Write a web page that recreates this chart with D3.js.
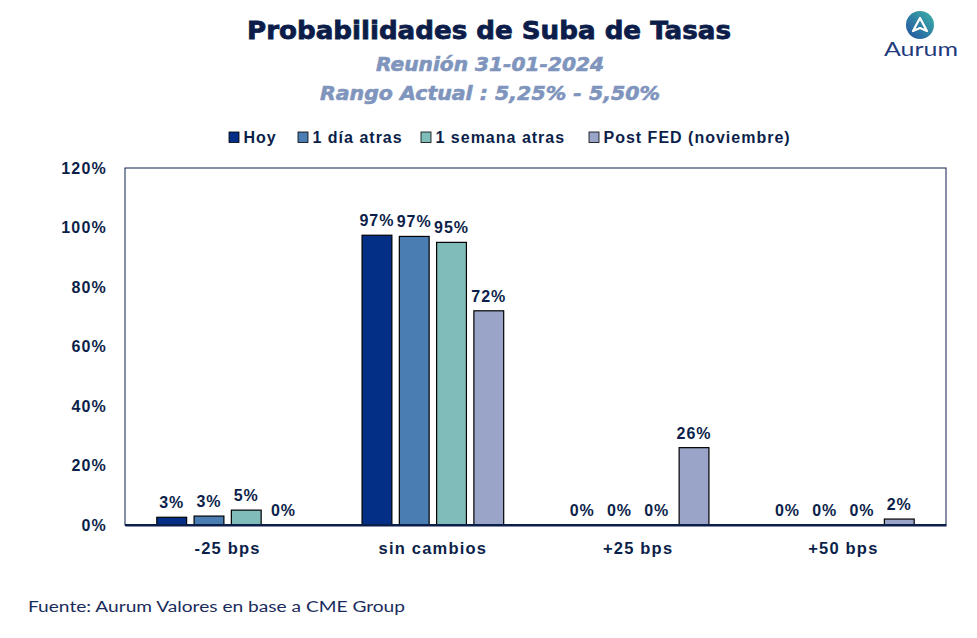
<!DOCTYPE html>
<html><head><meta charset="utf-8">
<script src="https://cdn.jsdelivr.net/npm/d3@7"></script>
<style>body{margin:0;background:#fff;}svg{display:block;}</style>
</head><body>
<svg id="c" width="977" height="638"></svg>
<script>
const categories = ["-25 bps", "sin cambios", "+25 bps", "+50 bps"];
const seriesNames = ["Hoy", "1 día atras", "1 semana atras", "Post FED (noviembre)"];
const hoy = [2.6, 97.4, 0, 0];
const diaAtras = [3, 97, 0, 0];
const semanaAtras = [5, 95, 0, 0];
const postFed = [0, 72, 26, 2];
const yTicks = [0, 20, 40, 60, 80, 100, 120];
const colors = ["#032f87", "#4a7db2", "#7fbcba", "#9aa3c8"];

const series = [hoy, diaAtras, semanaAtras, postFed];
const svg = d3.select("#c");
const navy = "#0c1f4a";
const arial = "Liberation Sans, Arial, sans-serif";
const m = {left:125, right:946, top:168, bottom:525};

const x0 = d3.scaleBand().domain(categories).range([m.left, m.right]).paddingInner(0.31).paddingOuter(0.155);
const x1 = d3.scaleBand().domain(seriesNames).range([0, x0.bandwidth()]).paddingInner(0.2).paddingOuter(0);
const y = d3.scaleLinear().domain([0, 120]).range([m.bottom, m.top]);

// frame
svg.append("rect").attr("x", m.left).attr("y", m.top).attr("width", m.right - m.left).attr("height", m.bottom - m.top)
  .attr("fill", "none").attr("stroke", navy).attr("stroke-width", 1);

// y axis
const yAxis = d3.axisLeft(y).tickValues(yTicks).tickFormat(d => d + "%").tickSize(0).tickPadding(18);
const ya = svg.append("g").attr("transform", `translate(${m.left},0)`).call(yAxis);
ya.select(".domain").remove();
ya.selectAll("text").attr("font-family", arial).attr("font-weight", "bold")
  .attr("font-size", 16).attr("letter-spacing", 1.2).attr("fill", navy);

// x axis
const xAxis = d3.axisBottom(x0).tickSize(0).tickPadding(17);
const xa = svg.append("g").attr("transform", `translate(0,${m.bottom})`).call(xAxis);
xa.select(".domain").attr("stroke", navy).attr("stroke-width", 2);
xa.selectAll("text").attr("font-family", arial).attr("font-weight", "bold")
  .attr("font-size", 16.5).attr("letter-spacing", 1.2).attr("fill", navy);

// bars
const rows = [];
categories.forEach((c, i) => seriesNames.forEach((s, j) => rows.push({c, s, j, v: series[j][i]})));
const g = svg.append("g");
g.selectAll("rect").data(rows.filter(d => d.v > 0)).join("rect")
  .attr("x", d => x0(d.c) + x1(d.s)).attr("width", x1.bandwidth())
  .attr("y", d => y(d.v)).attr("height", d => y(0) - y(d.v))
  .attr("fill", d => colors[d.j]).attr("stroke", "#000").attr("stroke-width", 1.2);
g.selectAll("text").data(rows).join("text")
  .attr("x", d => x0(d.c) + x1(d.s) + x1.bandwidth() / 2)
  .attr("y", d => y(d.v) - 9).attr("text-anchor", "middle")
  .attr("font-family", arial).attr("font-weight", "bold").attr("font-size", 16).attr("letter-spacing", 1)
  .attr("fill", navy).text(d => Math.round(d.v) + "%");

// redraw bottom line over bars
svg.append("line").attr("x1", m.left).attr("x2", m.right).attr("y1", m.bottom).attr("y2", m.bottom)
  .attr("stroke", navy).attr("stroke-width", 2);

// titles
svg.append("text").attr("x", 489).attr("y", 39).attr("text-anchor", "middle")
  .attr("font-family", "DejaVu Sans, sans-serif").attr("font-weight", "900").attr("font-size", 25)
  .attr("fill", "#0c1d4a").attr("textLength", 484).attr("lengthAdjust", "spacingAndGlyphs")
  .style("paint-order", "stroke").attr("stroke", "#0c1d4a").attr("stroke-width", 0.8)
  .text("Probabilidades de Suba de Tasas");
svg.append("text").attr("x", 490).attr("y", 71).attr("text-anchor", "middle")
  .attr("font-family", "DejaVu Sans, sans-serif").attr("font-weight", "bold").attr("font-style", "italic").attr("font-size", 19)
  .attr("fill", "#7f95bd").attr("stroke", "#7f95bd").attr("stroke-width", 0.6)
  .attr("textLength", 228).attr("lengthAdjust", "spacingAndGlyphs")
  .text("Reunión 31-01-2024");
svg.append("text").attr("x", 490).attr("y", 100).attr("text-anchor", "middle")
  .attr("font-family", "DejaVu Sans, sans-serif").attr("font-weight", "bold").attr("font-style", "italic").attr("font-size", 19)
  .attr("fill", "#7f95bd").attr("stroke", "#7f95bd").attr("stroke-width", 0.6)
  .attr("textLength", 340).attr("lengthAdjust", "spacingAndGlyphs")
  .text("Rango Actual : 5,25% - 5,50%");

// legend
const legX = [229, 298, 421, 589];
const lg = svg.append("g");
seriesNames.forEach((s, j) => {
  lg.append("rect").attr("x", legX[j]).attr("y", 132).attr("width", 10).attr("height", 10.5)
    .attr("fill", colors[j]).attr("stroke", "#000").attr("stroke-width", 0.8);
  lg.append("text").attr("x", legX[j] + 14.5).attr("y", 143)
    .attr("font-family", arial).attr("font-weight", "bold").attr("font-size", 16).attr("letter-spacing", 1)
    .attr("fill", navy).text(s);
});

// footer
svg.append("text").attr("x", 28).attr("y", 612)
  .attr("font-family", "Lato, Noto Sans, sans-serif").attr("font-size", 15.5).attr("fill", "#1a2b5c")
  .attr("textLength", 377).attr("lengthAdjust", "spacingAndGlyphs")
  .text("Fuente: Aurum Valores en base a CME Group");

// logo
const defs = svg.append("defs");
const grad = defs.append("linearGradient").attr("id", "lg1").attr("x1", "0").attr("y1", "1").attr("x2", "1").attr("y2", "0");
grad.append("stop").attr("offset", "0").attr("stop-color", "#2450a0");
grad.append("stop").attr("offset", "1").attr("stop-color", "#3bb3a8");
svg.append("circle").attr("cx", 920).attr("cy", 25).attr("r", 14).attr("fill", "url(#lg1)");
svg.append("path").attr("d", "M913,31 L920,18 L927,31 L920,28 Z").attr("fill", "none")
  .attr("stroke", "#fff").attr("stroke-width", 2.2).attr("stroke-linejoin", "round");
svg.append("text").attr("x", 921).attr("y", 56).attr("text-anchor", "middle")
  .attr("font-family", "Lato, Noto Sans, sans-serif").attr("font-size", 20).attr("fill", "#1f3b7c")
  .attr("textLength", 74).attr("lengthAdjust", "spacingAndGlyphs")
  .text("Aurum");
</script>
</body></html>
